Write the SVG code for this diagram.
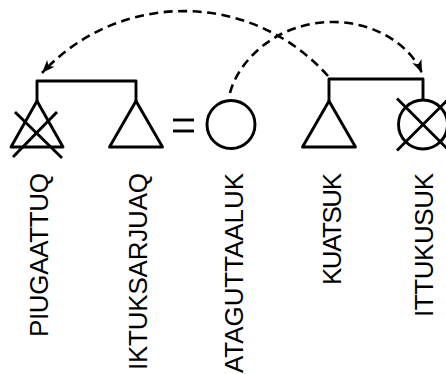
<svg xmlns="http://www.w3.org/2000/svg" width="446" height="374" viewBox="0 0 446 374">
  <style>
    .ln { fill: none; stroke: #000; stroke-width: 2.9; stroke-linejoin: round; stroke-linecap: butt; }
    .dash { fill: none; stroke: #000; stroke-width: 2.6; stroke-dasharray: 9 5.5; }
    .lbl { font-family: "Liberation Sans", Arial, sans-serif; font-size: 26px; fill: #000; }
  </style>
  <defs>
    <marker id="arrow" viewBox="-14 -6 16 12" refX="0" refY="0" markerWidth="16" markerHeight="12" markerUnits="userSpaceOnUse" orient="auto">
      <path d="M0,0 L-13,-5 L-9.5,0 L-13,5 Z" fill="#000"/>
    </marker>
  </defs>
  <rect width="446" height="374" fill="#fff"/>

  <!-- sibling brackets, marriage sign and dashed transfer arcs -->
  <g id="connectors">
    <path class="ln" d="M37,101 V81 H136 V101"/>
    <path class="ln" d="M329,101 V79 H423 V100"/>
    <path class="dash" d="M328,76 A193,193 0 0 0 42,73" marker-end="url(#arrow)"/>
    <path class="dash" d="M230,93 C238,62 275,22 333,22 C375,22 410,45 422,73" marker-end="url(#arrow)"/>
    <g id="marriage">
      <line class="ln" x1="173" y1="120" x2="194" y2="120" stroke-width="3.2"/>
      <line class="ln" x1="173" y1="131" x2="194" y2="131" stroke-width="3.2"/>
    </g>
  </g>

  <g id="piugaattuq">
    <polygon class="ln" points="37,101 11,147 63,147"/>
    <line class="ln" x1="15" y1="112" x2="62" y2="158"/>
    <line class="ln" x1="57" y1="112" x2="13" y2="157"/>
    <text class="lbl" transform="translate(48,337) rotate(-90)" textLength="164" lengthAdjust="spacing">PIUGAATTUQ</text>
  </g>

  <g id="iktuksarjuaq">
    <polygon class="ln" points="136,101 109.5,147 162.5,147"/>
    <text class="lbl" transform="translate(146.5,370) rotate(-90)" textLength="197" lengthAdjust="spacing">IKTUKSARJUAQ</text>
  </g>

  <g id="ataguttaaluk">
    <circle class="ln" cx="231" cy="124.5" r="24"/>
    <text class="lbl" transform="translate(243,373) rotate(-90)" textLength="200" lengthAdjust="spacing">ATAGUTTAALUK</text>
  </g>

  <g id="kuatsuk">
    <polygon class="ln" points="329,101 302.5,147 355.5,147"/>
    <text class="lbl" transform="translate(341,285) rotate(-90)" textLength="112" lengthAdjust="spacing">KUATSUK</text>
  </g>

  <g id="ittukusuk">
    <circle class="ln" cx="423" cy="124.5" r="24.5"/>
    <line class="ln" x1="397" y1="98.5" x2="449" y2="150.5"/>
    <line class="ln" x1="397" y1="150.5" x2="449" y2="98.5"/>
    <text class="lbl" transform="translate(433,317) rotate(-90)" textLength="144" lengthAdjust="spacing">ITTUKUSUK</text>
  </g>
</svg>
